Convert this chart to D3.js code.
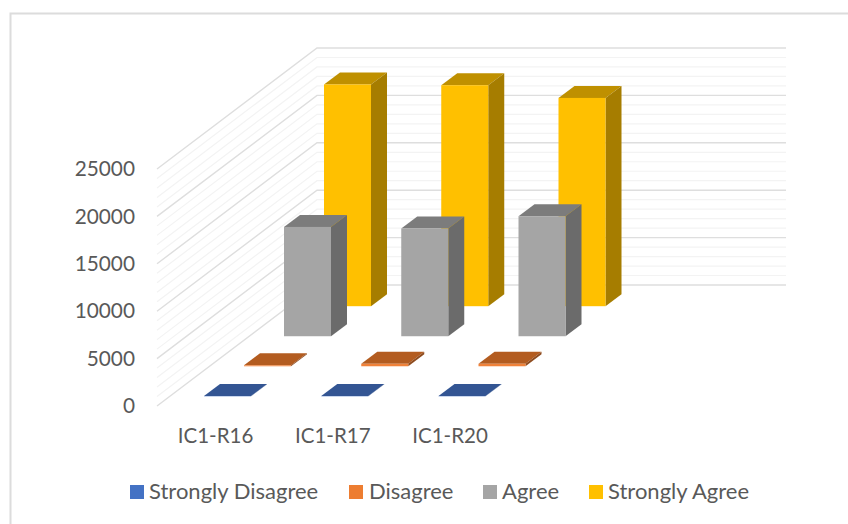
<!DOCTYPE html>
<html>
<head>
<meta charset="utf-8">
<script src="https://cdn.jsdelivr.net/npm/d3@7"></script>
<style>
html,body{margin:0;padding:0;background:#fff;}
svg{display:block;}
text{font-family:Lato,"Open Sans",sans-serif;fill:#595959;}
</style>
</head>
<body>
<div id="chart"></div>
<script>
const categories = ["IC1-R16", "IC1-R17", "IC1-R20"];
const seriesNames = ["Strongly Disagree", "Disagree", "Agree", "Strongly Agree"];
const stronglyDisagree = [30, 30, 30];
const disagree = [100, 260, 260];
const agree = [11530, 11360, 12660];
const stronglyAgree = [23390, 23310, 21970];
const majorTicks = [0, 5000, 10000, 15000, 20000, 25000];
const minorTicks = d3.range(0, 25001, 1000).filter(v => v % 5000 !== 0);

const frontColors = ["#4472c4", "#f0823a", "#a5a5a5", "#ffc000"];
const sideColors = ["#2a4a80", "#8e4b1e", "#6b6b6b", "#a67d00"];
const topColors = ["#335593", "#b35c20", "#7c7c7c", "#bf9000"];
const seriesValues = [stronglyDisagree, disagree, agree, stronglyAgree];

const W = 848, H = 524;
const svg = d3.select("#chart").append("svg").attr("width", W).attr("height", H);

// chart frame (left and top edges only are visible)
svg.append("path").attr("d", `M10.5 ${H}V13.5H${W}`).attr("fill", "none")
  .attr("stroke", "#dcdcdc").attr("stroke-width", 2);

const y = d3.scaleLinear().domain([0, 25000]).range([406, 169]);
const x = d3.scalePoint().domain(categories).range([204, 438.5]);
const depthX = d3.scalePoint().domain(seriesNames).range([0, 120]);
const depthY = d3.scalePoint().domain(seriesNames).range([-9.7, -99.8]);

const wallFrontX = 157, wallBackX = 317, wallDY = -121, wallRightX = 786;
const barW = 47, barDX = 16, barDY = -12;

const grid = svg.append("g").attr("fill", "none");
function gridLines(ticks, color, width) {
  grid.append("g").selectAll("path").data(ticks).join("path")
    .attr("d", v => d3.line()([[wallFrontX, y(v)], [wallBackX, y(v) + wallDY], [wallRightX, y(v) + wallDY]]))
    .attr("stroke", color).attr("stroke-width", width);
}
gridLines(minorTicks, "#f3f3f3", 1.2);
gridLines(majorTicks, "#dedede", 1.4);

// bars, back series first
const bars = svg.append("g");
d3.range(seriesNames.length - 1, -1, -1).forEach(s => {
  const name = seriesNames[s];
  const g = bars.append("g");
  const rows = categories.map((c, i) => ({ c, v: seriesValues[s][i] }));
  const x0 = d => x(d.c) + depthX(name);
  const yb = depthY(name);
  g.selectAll("path.top").data(rows).join("path").attr("class", "top")
    .attr("fill", topColors[s])
    .attr("d", d => d3.line()([
      [x0(d), y(d.v) + yb], [x0(d) + barW, y(d.v) + yb],
      [x0(d) + barW + barDX, y(d.v) + yb + barDY], [x0(d) + barDX, y(d.v) + yb + barDY]]) + "Z");
  g.selectAll("path.side").data(rows).join("path").attr("class", "side")
    .attr("fill", sideColors[s])
    .attr("d", d => d3.line()([
      [x0(d) + barW, y(d.v) + yb], [x0(d) + barW + barDX, y(d.v) + yb + barDY],
      [x0(d) + barW + barDX, y(0) + yb + barDY], [x0(d) + barW, y(0) + yb]]) + "Z");
  g.selectAll("rect").data(rows).join("rect")
    .attr("fill", frontColors[s])
    .attr("x", x0).attr("width", barW)
    .attr("y", d => y(d.v) + yb).attr("height", d => y(0) - y(d.v));
});

// value axis labels
const axis = svg.append("g").attr("transform", "translate(135,0)")
  .call(d3.axisLeft(y).tickValues(majorTicks).tickSize(0).tickPadding(0).tickFormat(d3.format("d")));
axis.select(".domain").remove();
axis.selectAll("text").attr("font-size", 20.8).style("font-family", "Lato,'Open Sans',sans-serif").attr("fill", "#595959");

// category labels
svg.append("g").selectAll("text").data(categories).join("text")
  .attr("x", c => x(c) + 11.5).attr("y", 443).attr("text-anchor", "middle")
  .attr("font-size", 20.5).text(c => c);

// legend
const legendSwatch = [130, 349, 483, 589];
const legendText = [149, 369, 502, 608];
const legend = svg.append("g").selectAll("g").data(seriesNames).join("g");
legend.append("rect").attr("x", (d, i) => legendSwatch[i]).attr("y", 485)
  .attr("width", 14).attr("height", 14).attr("fill", (d, i) => frontColors[i] === "#f0823a" ? "#ed7d31" : frontColors[i]);
legend.append("text").attr("x", (d, i) => legendText[i]).attr("y", 499)
  .attr("font-size", 22).text(d => d);
</script>
</body>
</html>
